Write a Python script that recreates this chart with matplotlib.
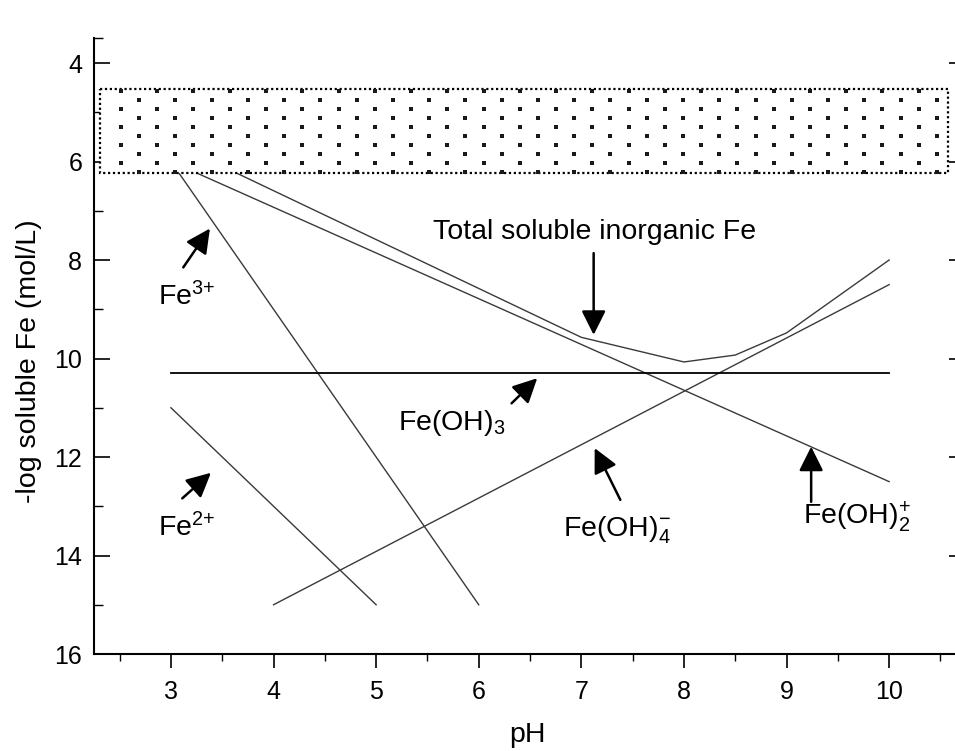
import numpy as np
import matplotlib
matplotlib.use("Agg")
import matplotlib.pyplot as plt
from matplotlib.patches import Rectangle
from matplotlib.ticker import MultipleLocator, FixedLocator

plt.rcParams['font.family'] = ['Liberation Sans', 'DejaVu Sans']
plt.rcParams['mathtext.fontset'] = 'custom'
plt.rcParams['mathtext.rm'] = 'Liberation Sans'
plt.rcParams['mathtext.it'] = 'Liberation Sans:italic'
plt.rcParams['mathtext.bf'] = 'Liberation Sans:bold'

# ---------------- data ----------------
ph_fe3 = [3, 6]
y_fe3 = [6.0, 15.0]

ph_fe2 = [3, 5]
y_fe2 = [11.0, 15.0]

ph_feoh2 = [3, 10]
y_feoh2 = [6.0, 12.5]

ph_feoh3 = [3, 10]
y_feoh3 = [10.3, 10.3]

ph_feoh4 = [4, 10]
y_feoh4 = [15.0, 8.5]

ph_total = [3, 7, 8, 8.5, 9, 10]
y_total = [5.6, 9.57, 10.07, 9.93, 9.48, 8.0]

# shaded band (range of Fe requirement)
band_ph = [2.31, 10.57]
band_y = [4.53, 6.23]

x_major = [3, 4, 5, 6, 7, 8, 9, 10]
y_major = [4, 6, 8, 10, 12, 14, 16]
y_minor = [3.5, 5, 7, 9, 11, 13, 15]

# labels: text, text anchor (x, baseline y), horizontal alignment, arrow tail, arrow tip
labels = [
    ("Total soluble inorganic Fe", (7.13, 7.57), "center", (7.12, 7.86), (7.12, 9.52)),
    (r"Fe$^{3{+}}$", (2.87, 8.91), "left", (3.12, 8.15), (3.38, 7.36)),
    (r"Fe$^{2{+}}$", (2.87, 13.62), "left", (3.11, 12.84), (3.39, 12.32)),
    (r"Fe(OH)$_3$", (5.21, 11.45), "left", (6.32, 10.91), (6.57, 10.40)),
    (r"Fe(OH)$_4^{-}$", (6.82, 13.62), "left", (7.38, 12.87), (7.13, 11.82)),
    (r"Fe(OH)$_2^{+}$", (9.16, 13.36), "left", (9.24, 12.91), (9.24, 11.79)),
]

# ---------------- figure ----------------
fig = plt.figure(figsize=(9.55, 7.51), dpi=100)
ax = fig.add_axes([0.09843, 0.12916, 0.90157, 0.81971])

line_kw = dict(color='#3a3a3a', lw=1.0, zorder=2)
ax.plot(ph_fe3, y_fe3, **line_kw)
ax.plot(ph_fe2, y_fe2, **line_kw)
ax.plot(ph_feoh2, y_feoh2, **line_kw)
ax.plot(ph_feoh4, y_feoh4, **line_kw)
ax.plot(ph_total, y_total, **line_kw)
ax.plot(ph_feoh3, y_feoh3, color='black', lw=1.3, zorder=2)

# dotted band
rect = Rectangle((band_ph[0], band_y[0]), band_ph[1] - band_ph[0], band_y[1] - band_y[0],
                 facecolor='white', edgecolor='black', lw=1.6,
                 linestyle=(0, (1, 1.2)), zorder=3)
ax.add_patch(rect)
row_step = 0.1827
col_step = 0.3534
dx_list, dy_list = [], []
for k in range(10):
    yy = 4.56 + row_step * k
    x0 = 2.513 if k % 2 == 0 else 2.69
    xs = x0 + col_step * np.arange(23)
    xs = xs[xs < band_ph[1]]
    dx_list.extend(xs)
    dy_list.extend([yy] * len(xs))
ax.scatter(dx_list, dy_list, marker='s', s=11, color='#1a1a1a', linewidths=0, zorder=4)

# labels and arrows
for text, (tx, ty), ha, tail, tip in labels:
    ax.text(tx, ty, text, ha=ha, va='baseline', fontsize=20.5, color='black', zorder=5)
    ax.annotate('', xy=tip, xytext=tail,
                arrowprops=dict(arrowstyle='-|>,head_length=0.4,head_width=0.2',
                                mutation_scale=37, lw=1.8, color='black',
                                shrinkA=0, shrinkB=0), zorder=5)

# axes
ax.set_xlim(2.25, 10.642)
ax.set_ylim(16, 3.5)
ax.set_xticks(x_major)
ax.xaxis.set_minor_locator(MultipleLocator(0.5))
ax.set_yticks(y_major)
ax.yaxis.set_minor_locator(FixedLocator(y_minor))

for s in ['top', 'right']:
    ax.spines[s].set_visible(False)
for s in ['left', 'bottom']:
    ax.spines[s].set_linewidth(1.5)

ax.tick_params(axis='x', which='major', direction='out', length=10, width=1.2,
               pad=8.5, labelsize=18)
ax.tick_params(axis='x', which='minor', direction='out', length=5, width=1.0)
ax.tick_params(axis='y', which='major', direction='in', length=11.5, width=1.2,
               pad=8.5, labelsize=18)
ax.tick_params(axis='y', which='minor', direction='in', length=6.5, width=1.0)

sec = ax.secondary_yaxis('right')
sec.set_yticks(y_major)
sec.set_yticklabels([])
sec.tick_params(direction='in', length=4, width=1.2)
sec.spines['right'].set_visible(False)

ax.set_xlabel('pH', fontsize=20.5)
ax.set_ylabel('-log soluble Fe (mol/L)', fontsize=20.5)
ax.xaxis.set_label_coords(0.504, -0.110)
ax.yaxis.set_label_coords(-0.0604, 0.475)

fig.savefig('out.png', dpi=100)
